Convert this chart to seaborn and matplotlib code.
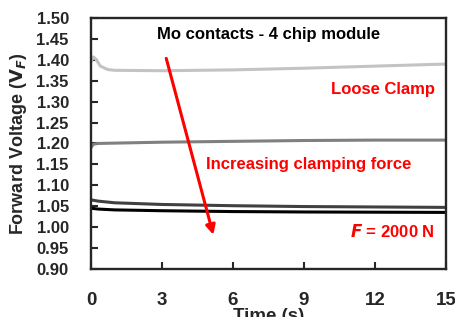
import pandas as pd
import matplotlib
matplotlib.use('Agg')
import matplotlib.pyplot as plt
import seaborn as sns

# Forward voltage traces
t_loose = [0, 0.1, 0.2, 0.4, 0.7, 1.0, 3, 6, 9, 12, 15]
v_loose = [1.395, 1.407, 1.402, 1.385, 1.377, 1.375, 1.374, 1.376, 1.380, 1.385, 1.390]

t_mid = [0, 0.1, 0.3, 3, 6, 9, 12, 15]
v_mid = [1.19, 1.198, 1.200, 1.203, 1.205, 1.207, 1.208, 1.208]

t_high = [0, 0.3, 1, 3, 6, 9, 12, 15]
v_high = [1.065, 1.062, 1.058, 1.054, 1.051, 1.049, 1.048, 1.047]

t_full = [0, 0.3, 1, 3, 6, 9, 15]
v_full = [1.045, 1.043, 1.041, 1.039, 1.037, 1.036, 1.035]

line_colors = ['#c3c3c3', '#808080', '#404040', '#000000']
x_ticks = [0, 3, 6, 9, 12, 15]
y_ticks = [0.90, 0.95, 1.00, 1.05, 1.10, 1.15, 1.20, 1.25, 1.30, 1.35, 1.40, 1.45, 1.50]


def make_plot():
    sns.set_style("ticks")
    plt.rcParams['font.family'] = ['Liberation Sans', 'DejaVu Sans']
    plt.rcParams['font.weight'] = 'bold'

    fig = plt.figure(figsize=(4.55, 3.17), dpi=100)
    ax = fig.add_axes([0.2, 0.152, 0.78, 0.791])

    series = [(t_loose, v_loose), (t_mid, v_mid), (t_high, v_high), (t_full, v_full)]
    for (t, v), c in zip(series, line_colors):
        df = pd.DataFrame({'t': t, 'v': v})
        sns.lineplot(data=df, x='t', y='v', color=c, lw=2.2, ax=ax)

    ax.set_xlim(0, 15)
    ax.set_ylim(0.90, 1.50)
    ax.set_xticks(x_ticks)
    ax.set_yticks(y_ticks)
    ax.set_yticklabels([f'{y:.2f}' for y in y_ticks])
    ax.tick_params(direction='in', length=5, width=1.5, labelsize=12)
    ax.tick_params(axis='y', pad=16)
    ax.tick_params(axis='x', pad=17, labelsize=13.5)
    for lab in ax.get_xticklabels() + ax.get_yticklabels():
        lab.set_fontweight('bold')
    for s in ax.spines.values():
        s.set_visible(True)
        s.set_linewidth(1.7)

    ax.set_xlabel('Time (s)', fontsize=13.5, fontweight='bold', labelpad=-1)
    ax.set_ylabel('Forward Voltage ($\\mathbf{V_{\\it{F}}}$)', fontsize=13, fontweight='bold', labelpad=5)

    ax.text(7.5, 1.46, 'Mo contacts - 4 chip module', ha='center', va='center',
            fontsize=12, fontweight='bold', color='black')
    ax.text(14.55, 1.33, 'Loose Clamp', ha='right', va='center',
            fontsize=12, fontweight='bold', color='red')
    ax.text(9.2, 1.15, 'Increasing clamping force', ha='center', va='center',
            fontsize=12, fontweight='bold', color='red')
    ax.text(14.55, 0.99, '$\\bf{\\it{F}}$ = 2000 N', ha='right', va='center',
            fontsize=12, fontweight='bold', color='red')
    ax.annotate('', xy=(5.2, 0.975), xytext=(3.15, 1.41),
                arrowprops=dict(arrowstyle='-|>', color='red', lw=2.2, mutation_scale=14))

    fig.savefig('out.png', dpi=100)


def main():
    make_plot()


if __name__ == '__main__':
    main()
